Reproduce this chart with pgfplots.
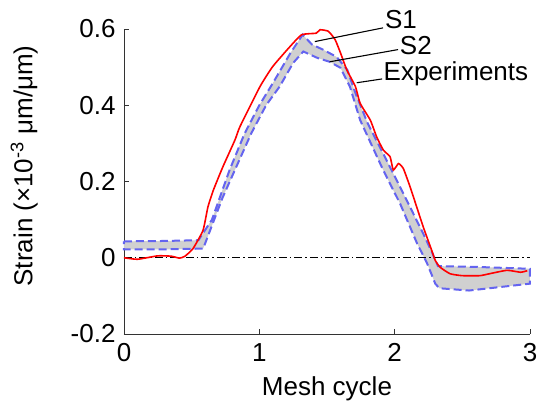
\documentclass[border=0pt]{standalone}
\usepackage{pgfplots}
\pgfplotsset{compat=1.18}
\usepackage{fontspec}
\setmainfont{Liberation Sans}
\definecolor{bandblue}{RGB}{100,100,240}
\definecolor{bandgray}{RGB}{208,208,208}
\begin{document}
\begin{tikzpicture}
\useasboundingbox (-124pt,-77pt) rectangle (418pt,334pt);
\begin{axis}[
  scale only axis,
  width=406pt, height=305pt,
  xmin=0, xmax=3, ymin=-0.2, ymax=0.6,
  axis x line*=bottom, axis y line*=left,
  axis line style={line width=0.8pt, black!80},
  xtick={0,1,2,3}, xticklabels={0,1,2,3},
  ytick={-0.2,0,0.2,0.4,0.6}, yticklabels={-0.2,0,0.2,0.4,0.6},
  tick align=inside,
  major tick length=5pt,
  tick style={line width=0.8pt, black!80},
  every tick label/.append style={font=\fontsize{26}{31}\selectfont},
  xticklabel style={yshift=-6pt},
  yticklabel style={xshift=-5pt},
  label style={font=\fontsize{26}{31}\selectfont},
  xlabel={Mesh cycle},
  ylabel={Strain (×10\textsuperscript{-3} μm/μm)},
  xlabel style={at={(axis description cs:0.5,-0.18)}, anchor=center},
  ylabel style={at={(axis description cs:-0.246,0.551)}, anchor=center},
  clip=false,
]
% simulation band (S1 upper, S2 lower)
\addplot[fill=bandgray, draw=bandblue, line width=2pt, dash pattern=on 8pt off 4pt] coordinates {
(0,0.043) (0.3,0.044) (0.55,0.046) (0.65,0.10) (0.78,0.23) (0.89,0.325) (1.0,0.40) (1.1,0.458) (1.23,0.537) (1.32,0.585)
(1.39,0.559) (1.47,0.546) (1.57,0.527) (1.65,0.493) (1.71,0.432) (1.80,0.353) (1.94,0.256) (2.09,0.15) (2.21,0.064) (2.28,0.011) (2.32,-0.022)
(2.6,-0.024) (3.0,-0.029)
(3.0,-0.068) (2.55,-0.086) (2.33,-0.08) (2.30,-0.068) (2.24,-0.015) (2.165,0.038) (2.04,0.142) (1.915,0.23) (1.745,0.361) (1.67,0.448)
(1.60,0.498) (1.52,0.514) (1.43,0.524) (1.325,0.541) (1.25,0.511) (1.15,0.449) (1.05,0.40) (0.94,0.326) (0.73,0.159) (0.585,0.024)
(0.3,0.022) (0,0.022)
} -- cycle;
% zero line
\addplot[black, line width=0.6pt, dash pattern=on 8pt off 3pt on 1.5pt off 3pt] coordinates {(0,0) (3,0)};
% experiments
\addplot[red, line width=1.6pt, smooth, tension=0.3] coordinates {
(0,0) (0.1,-0.004) (0.25,0.005) (0.35,0.004) (0.41,-0.001) (0.45,0.004) (0.51,0.024) (0.584,0.072) (0.62,0.133) (0.66,0.177) (0.73,0.238)
(0.82,0.309) (0.857,0.344) (1.005,0.449) (1.10,0.502) (1.227,0.554) (1.313,0.585) (1.42,0.589) (1.449,0.598) (1.51,0.594) (1.56,0.572)
(1.60,0.537) (1.646,0.493) (1.71,0.449) (1.745,0.405) (1.82,0.361) (1.867,0.317) (1.917,0.282) (1.966,0.265) (1.99,0.23) (2.028,0.247)
(2.064,0.234) (2.114,0.186) (2.163,0.133) (2.212,0.08) (2.274,0.019) (2.30,-0.007) (2.336,-0.025) (2.41,-0.042) (2.5,-0.047) (2.63,-0.047)
(2.7,-0.042) (2.83,-0.033) (2.93,-0.038) (2.98,-0.034)
};
% annotations
\draw[black, line width=1.1pt] (axis cs:1.41,0.567) -- (axis cs:1.914,0.603);
\draw[black, line width=1.1pt] (axis cs:1.52,0.514) -- (axis cs:2.025,0.546);
\draw[black, line width=1.1pt] (axis cs:1.72,0.459) -- (axis cs:1.907,0.469);
\node[anchor=west, inner sep=1pt, font=\fontsize{26}{31}\selectfont] at (axis cs:1.92,0.625) {S1};
\node[anchor=west, inner sep=1pt, font=\fontsize{26}{31}\selectfont] at (axis cs:2.03,0.556) {S2};
\node[anchor=west, inner sep=1pt, font=\fontsize{26}{31}\selectfont] at (axis cs:1.91,0.483) {Experiments};
\end{axis}
\end{tikzpicture}
\end{document}
